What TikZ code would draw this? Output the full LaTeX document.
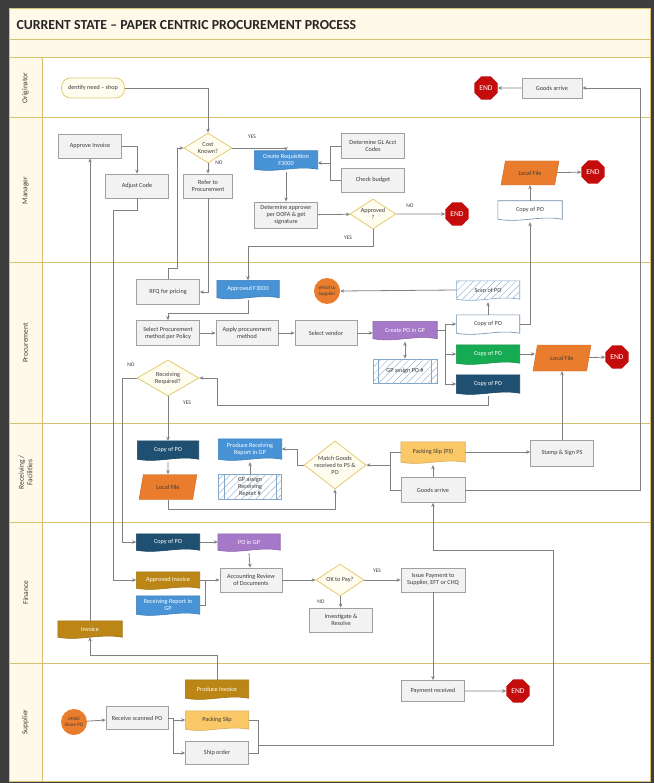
\documentclass[tikz,border=0pt]{standalone}
\usepackage{fontspec}
\setmainfont{Carlito}
\usetikzlibrary{arrows.meta, shapes.geometric, patterns.meta, calc, backgrounds}

\definecolor{darkbg}{RGB}{62,62,62}
\definecolor{lanegold}{RGB}{214,194,110}
\definecolor{creambg}{RGB}{255,249,233}
\definecolor{boxfill}{RGB}{242,242,242}
\definecolor{boxline}{RGB}{160,160,160}
\definecolor{decline}{RGB}{228,204,112}
\definecolor{decfill}{RGB}{255,253,240}
\definecolor{docblue}{RGB}{72,146,214}
\definecolor{docpurple}{RGB}{166,120,200}
\definecolor{docgreen}{RGB}{22,170,82}
\definecolor{docteal}{RGB}{31,80,114}
\definecolor{docochre}{RGB}{188,134,22}
\definecolor{docyellow}{RGB}{250,200,102}
\definecolor{fileorange}{RGB}{234,124,46}
\definecolor{endred}{RGB}{196,12,12}
\definecolor{linegray}{RGB}{128,128,128}
\definecolor{hatchblue}{RGB}{130,165,200}
\definecolor{textgray}{RGB}{60,60,60}

\newcommand{\boxfont}{\fontsize{6.2}{7}\selectfont}
\newcommand{\titlefont}{\fontsize{13.8}{15}\selectfont\bfseries}

\tikzset{
  box/.style={draw=boxline, fill=boxfill, line width=0.8pt, minimum width=63pt,
    minimum height=24pt, inner sep=1pt, align=center, font=\boxfont, text=textgray},
  doc/.style={minimum width=63pt, minimum height=18pt, inner sep=1pt, align=center,
    font=\boxfont, text=white},
  start/.style={draw=decline, fill=decfill, line width=0.8pt, rounded corners=9pt,
    minimum width=63pt, minimum height=20pt, font=\boxfont, text=textgray},
  decision/.style={diamond, draw=decline, fill=decfill, line width=0.8pt, inner sep=0pt},
  dtext/.style={align=center, font=\boxfont, text=textgray, inner sep=0pt},
  endsign/.style={regular polygon, regular polygon sides=8,
    fill=endred, text=white, minimum size=25pt, inner sep=0pt, font=\fontsize{7.5}{8}\selectfont},
  datafile/.style={trapezium, trapezium left angle=65, trapezium right angle=115,
    trapezium stretches=true, fill=fileorange, draw=fileorange!85!black, minimum width=58pt,
    minimum height=24pt, inner sep=0pt, font=\boxfont, text=textgray},
  mailcircle/.style={circle, fill=fileorange, minimum size=26pt, inner sep=0pt,
    align=center, font=\fontsize{5}{5.6}\selectfont, text=textgray},
  hatch/.style={postaction={pattern={Lines[angle=45, distance=5pt, line width=0.5pt]},
    pattern color=hatchblue!80}},
  predef/.style={draw=hatchblue, fill=white, line width=0.8pt, hatch,
    minimum width=63pt, minimum height=24pt, inner sep=1pt, align=center,
    font=\boxfont, text=textgray},
  tag/.style={font=\fontsize{5.5}{6}\selectfont, text=textgray, inner sep=0pt},
  lanename/.style={rotate=90, align=center, font=\fontsize{7.5}{8.5}\selectfont, text=textgray},
  flow/.style={draw=linegray, line width=0.8pt, -{Stealth[length=4pt,width=3.5pt]}},
  link/.style={draw=linegray, line width=0.8pt},
  twoway/.style={draw=linegray, line width=0.8pt, {Stealth[length=4pt,width=3.5pt]}-{Stealth[length=4pt,width=3.5pt]}}
}

\begin{document}
\begin{tikzpicture}[x=1pt,y=-1pt]
\useasboundingbox (0,0) rectangle (654,783);

\begin{pgfonlayer}{background}
\fill[darkbg] (0,0) rectangle (654,783);
\draw[lanegold, fill=creambg, line width=1pt] (9,9) rectangle (650,40);
\draw[lanegold, fill=creambg, line width=1pt] (9,40) rectangle (650,58);
\foreach \ya/\yb/\lab in {58/118/Originator, 118/263/Manager, 263/423/Procurement,
    423/522/{Receiving /\\Facilities}, 522/663/Finance, 663/781/Supplier} {
  \draw[lanegold, fill=white, line width=1pt] (42,\ya) rectangle (650,\yb);
  \draw[lanegold, fill=creambg, line width=1pt] (9,\ya) rectangle (42,\yb);
  \node[lanename] (lane\ya) at (25.5,{(\ya+\yb)/2}) {\lab};
}
\end{pgfonlayer}

\node[anchor=west, font=\titlefont, text=black!85] (title) at (13,25)
  {CURRENT STATE – PAPER CENTRIC PROCUREMENT PROCESS};

% Originator
\node[start] (idn) at (93,88) {dentify need – shop};
\node[endsign] (end1) at (486,88) {END};
\node[box, minimum width=60pt, minimum height=20pt] (ga1) at (552,88) {Goods arrive};

% Manager
\node[box] (apinv) at (90,146) {Approve Invoice};
\node[box] (adj) at (137,186) {Adjust Code};
\node[decision, minimum width=48pt, minimum height=30pt] (costk) at (208,148) {};
\node[dtext] (costk-t) at (costk) {Cost\\Known?};
\node[box, minimum width=49pt] (ref) at (208,186) {Refer to\\Procurement};
\node[doc] (creq) at (286,160) {Create Requisition\\F3000};
\node[box, minimum height=25pt] (gl) at (373,146) {Determine GL Acct\\Codes};
\node[box] (chk) at (373,180) {Check budget};
\node[box, minimum height=26pt] (dap) at (286,215) {Determine approver\\per DOFA \& get\\signature};
\node[decision, minimum width=46pt, minimum height=30pt] (appd) at (373,214) {};
\node[dtext] (appd-t) at (appd) {Approved\\?};
\node[endsign] (end2) at (457,214) {END};
\node[doc, minimum width=64pt, text=textgray] (cpm) at (530,210) {Copy of PO};
\node[datafile] (lfm) at (530,173) {Local File};
\node[endsign] (end3) at (593,172) {END};
\node[tag] (yes1) at (252,137) {YES};
\node[tag] (no1) at (219,163) {NO};
\node[tag] (no2) at (410,206) {NO};
\node[tag] (yes2) at (348,238) {YES};

% Procurement
\node[box, minimum height=25pt] (rfq) at (168,292) {RFQ for pricing};
\node[doc, minimum width=62pt, minimum height=17pt] (apf) at (248,289) {Approved F3000};
\node[mailcircle] (emsup) at (327,291) {eMail to\\Supplier};
\node[doc, text=textgray] (scan) at (488,290) {Scan of PO};
\node[box, minimum height=25pt] (spm) at (168,333) {Select Procurement\\method per Policy};
\node[box, minimum width=62pt, minimum height=25pt] (apm) at (247,333) {Apply procurement\\method};
\node[box, minimum width=62pt, minimum height=25pt] (sv) at (326,333) {Select vendor};
\node[doc, minimum width=64pt, minimum height=17pt] (cpo) at (405,330) {Create PO in GP};
\node[predef, minimum width=64pt] (gpa) at (405,371) {GP assign PO \#};
\node[doc, text=textgray] (cpw) at (488,324) {Copy of PO};
\node[doc] (cpg) at (488,354) {Copy of PO};
\node[doc] (cpt) at (488,384) {Copy of PO};
\node[datafile, minimum height=26pt] (lfp) at (562,358) {Local File};
\node[endsign] (end4) at (617,357) {END};
\node[decision, minimum width=62pt, minimum height=36pt] (rr) at (168,378) {};
\node[dtext] (rr-t) at (rr) {Receiving\\Required?};
\node[tag] (no3) at (131,365) {NO};
\node[tag] (yes3) at (187,403) {YES};

% Receiving / Facilities
\node[doc, minimum width=61pt] (cpr) at (168,450) {Copy of PO};
\node[datafile, minimum height=25pt] (lfr) at (168,487) {Local File};
\node[doc, minimum height=20pt] (prr) at (250,449) {Produce Receiving\\Report in GP};
\node[predef, minimum height=25pt] (gpr) at (250,487) {GP assign\\Receiving\\Report \#};
\node[decision, minimum width=62pt, minimum height=48pt] (match) at (335,465) {};
\node[dtext] (match-t) at (match) {Match Goods\\received to PS \&\\PO};
\node[doc, minimum width=64pt, minimum height=20pt, text=textgray] (ps) at (433,452) {Packing Slip (PS)};
\node[box, minimum width=64pt, minimum height=25pt] (ga2) at (433,490) {Goods arrive};
\node[box, minimum height=26pt] (ssp) at (562,453) {Stamp \& Sign PS};

% Finance
\node[doc, minimum height=16pt] (cpf) at (168,542) {Copy of PO};
\node[doc, minimum width=62pt, minimum height=16pt] (pogp) at (249,542) {PO in GP};
\node[doc, minimum height=16pt] (ainv) at (168,580) {Approved Invoice};
\node[doc] (rrgp) at (168,605) {Receiving Report in\\GP};
\node[box, minimum width=62pt] (acr) at (251,580) {Accounting Review\\of Documents};
\node[decision, minimum width=48pt, minimum height=32pt] (ok) at (340,580) {};
\node[dtext] (ok-t) at (ok) {OK to Pay?};
\node[box, minimum width=64pt] (iss) at (433,580) {Issue Payment to\\Supplier, EFT or CHQ};
\node[box] (inv2) at (341,620) {Investigate \&\\Resolve};
\node[doc, minimum width=64pt, minimum height=16pt] (invc) at (90,629) {Invoice};
\node[tag] (yes4) at (377,571) {YES};
\node[tag] (no4) at (321,602) {NO};

% Supplier
\node[mailcircle] (emsp) at (74,722) {eMail\\Share PO};
\node[box, minimum width=62pt, minimum height=23pt] (rsp) at (137,718) {Receive scanned PO};
\node[doc] (pinv) at (217,689) {Produce Invoice};
\node[doc, text=textgray] (pss) at (217,720) {Packing Slip};
\node[box, minimum height=23pt] (ship) at (217,753) {Ship order};
\node[box, minimum height=21pt] (pay) at (433,691) {Payment received};
\node[endsign] (end5) at (518,691) {END};

% document backgrounds
\begin{pgfonlayer}{background}
\foreach \n/\f/\d in {creq/docblue/docblue, apf/docblue/docblue, cpo/docpurple/docpurple,
    cpw/white/hatchblue, cpg/docgreen/docgreen, cpt/docteal/docteal, cpm/white/hatchblue,
    cpr/docteal/docteal, prr/docblue/docblue, ps/docyellow/docyellow, cpf/docteal/docteal,
    pogp/docpurple/docpurple, ainv/docochre/docochre, rrgp/docblue/docblue,
    invc/docochre/docochre, pinv/docochre/docochre, pss/docyellow/docyellow}
  \draw[draw=\d!85!black, fill=\f, line width=0.6pt] (\n.north west) -- (\n.north east)
    -- (\n.south east) .. controls ($(\n.south east)!0.35!(\n.south west)+(0,4pt)$)
    and ($(\n.south east)!0.65!(\n.south west)+(0,-4pt)$) .. (\n.south west) -- cycle;
\draw[draw=hatchblue, fill=white, line width=0.6pt, hatch]
  (scan.north west) -- (scan.north east) -- (scan.south east)
  .. controls ($(scan.south east)!0.35!(scan.south west)+(0,4pt)$)
  and ($(scan.south east)!0.65!(scan.south west)+(0,-4pt)$) .. (scan.south west) -- cycle;
\end{pgfonlayer}
\foreach \n in {gpa, gpr} {
  \draw[hatchblue, line width=0.8pt] ([xshift=6pt]\n.north west) -- ([xshift=6pt]\n.south west);
  \draw[hatchblue, line width=0.8pt] ([xshift=-6pt]\n.north east) -- ([xshift=-6pt]\n.south east);
}

% connectors
\coordinate (edge) at (640,88);
\coordinate (j1) at (330,163);
\coordinate (yesturn) at (248,246);
\coordinate (adjturn) at (113,210);
\coordinate (loopa) at (177,268);
\coordinate (apfturn) at (168,313);
\coordinate (br) at (445,330);
\coordinate (tturn) at (217,405);
\coordinate (rrno) at (122,378);
\coordinate (lfturn) at (335,509);
\coordinate (mturn) at (297,465);
\coordinate (psj) at (390,465);
\coordinate (fj) at (205,580);
\coordinate (sj) at (258,745);
\coordinate (sr) at (553,745);
\coordinate (su) at (553,550);
\coordinate (rj) at (173,718);
\coordinate (pinvt) at (217,655);

\draw[flow] (idn.east) -| (costk.north);
\draw[flow] (ga1) -- (end1);
\draw[flow] (ga2.east) -| (edge) -- (ga1.east);
\draw[flow] (apinv.east) -| (adj.north);
\draw[flow] (costk.east) -| (creq.north);
\draw[flow] (costk) -- (ref);
\draw[link] (gl.west) -| (j1);
\draw[link] (chk.west) -| (j1);
\draw[flow] (j1) -- (creq.east |- j1);
\draw[flow] ([yshift=-3pt]creq.south) -- (dap);
\draw[flow] (dap) -- (appd);
\draw[flow] (appd) -- (end2);
\draw[flow] (appd.south) |- (yesturn) -- (apf.north);
\draw[flow] (adj.south) |- (adjturn) |- (ainv.west);
\draw[flow] (invc) -- (apinv);
\draw[flow] (ref.south) |- (rfq.east);
\draw[flow] (rfq.north) |- (loopa) |- (costk.west);
\draw[flow] ([yshift=-2pt]apf.south) |- (apfturn) -- (spm);
\draw[flow] (spm) -- (apm);
\draw[flow] (apm) -- (sv);
\draw[flow] (sv) -- (cpo.west |- sv);
\draw[twoway] ([yshift=-3pt]cpo.south) -- (gpa);
\draw[link] (cpo.east) -- (br);
\draw[flow] (br) |- (cpw.west);
\draw[flow] (br) |- (cpg.west);
\draw[flow] (br) |- (cpt.west);
\draw[flow] (cpw) -- ([yshift=-3pt]scan.south);
\draw[flow] (scan.west) -- (emsup.east);
\draw[flow] (cpw.east) -| ([yshift=-3pt]cpm.south);
\draw[flow] (cpm) -- (lfm);
\draw[flow] (lfm) -- (end3);
\draw[flow] (cpg.east) -- (lfp.west |- cpg.east);
\draw[flow] (lfp) -- (end4);
\draw[flow] (ssp) -- (lfp);
\draw[flow] ([yshift=-3pt]cpt.south) |- (tturn) |- (rr.east);
\draw[flow] (rr.west) -- (rrno) |- (cpf.west);
\draw[flow] (rr) -- (cpr);
\draw[flow] ([yshift=-3pt]cpr.south) -- (lfr);
\draw[flow] (gpr) -- ([yshift=-3pt]prr.south);
\draw[flow] (lfr.south) |- (lfturn) -- (match.south);
\draw[flow] (match.west) -- (mturn) |- (prr.east);
\draw[link] (ps.west) -| (psj);
\draw[link] (ga2.west) -| (psj);
\draw[flow] (psj) -- (match.east);
\draw[flow] (ga2) -- ([yshift=-3pt]ps.south);
\draw[flow] (ps.east) -- (ps.east -| ssp.west);
\draw[flow] (cpf) -- (pogp);
\draw[flow] ([yshift=-3pt]pogp.south) -- (acr);
\draw[flow] (ainv.east) -- (acr.west);
\draw[link] (rrgp.east) -| (fj);
\draw[flow] (acr) -- (ok);
\draw[flow] (ok) -- (iss);
\draw[flow] (ok) -- (inv2);
\draw[flow] (iss) -- (pay);
\draw[flow] (pay) -- (end5);
\draw[flow] (emsp) -- (rsp);
\draw[link] (rsp.east) -- (rj);
\draw[flow] (rj) |- (pss.west);
\draw[flow] (rj) |- (ship.west);
\draw[link] (pss.east) -| (sj);
\draw[link] (ship.east) -| (sj);
\draw[flow] (sj) -- (sr) -- (su) -| (ga2.south);
\draw[flow] (pinv.north) -- (pinvt) -| (invc.south);
\end{tikzpicture}
\end{document}
